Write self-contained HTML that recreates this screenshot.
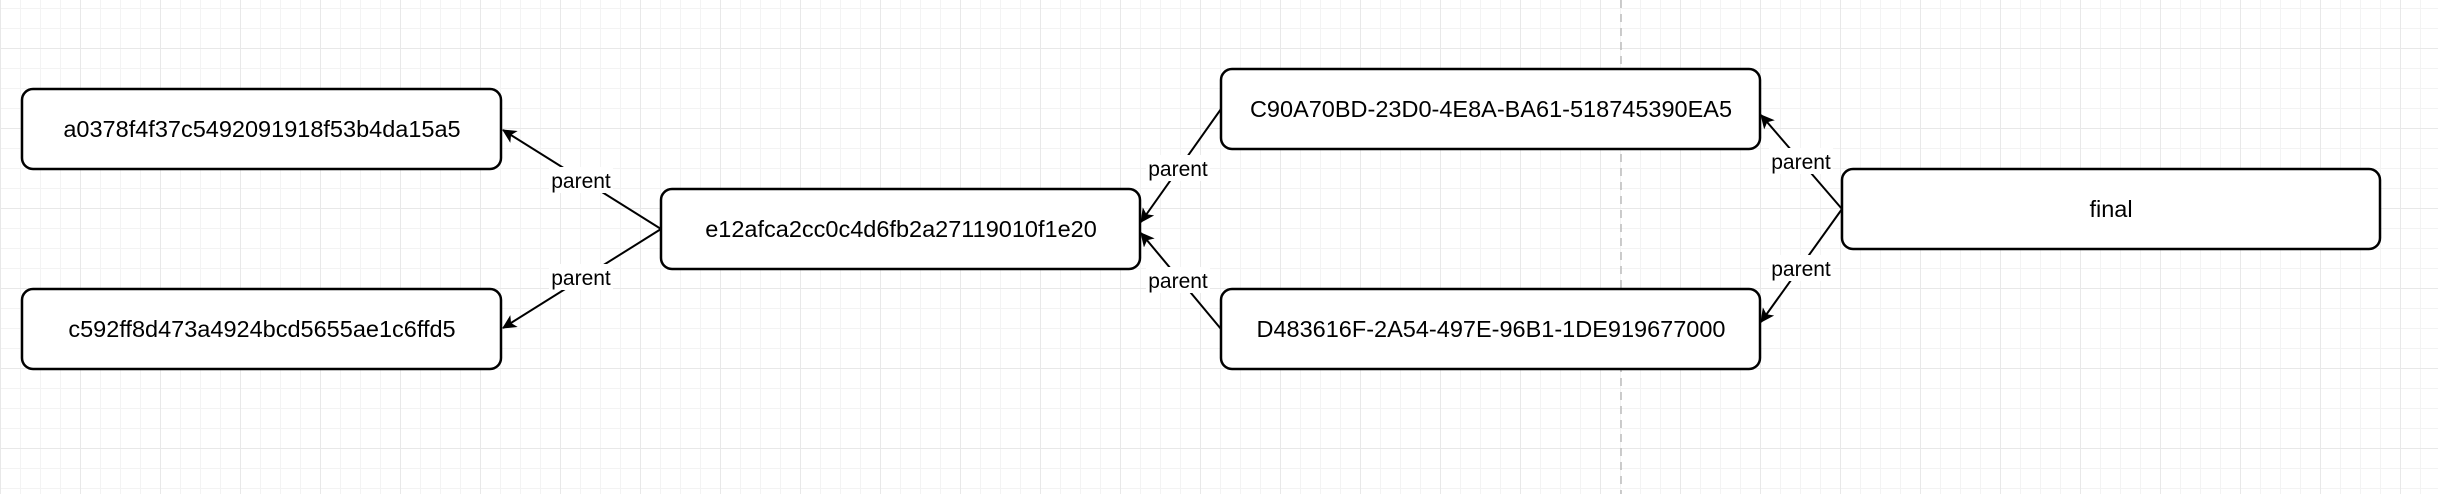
<!DOCTYPE html>
<html><head><meta charset="utf-8"><style>
html,body{margin:0;padding:0;background:#fff;}
svg{display:block;}
text{font-family:"Liberation Sans",Arial,sans-serif;fill:#000;}
</style></head><body>
<svg width="2438" height="494" viewBox="0 0 2438 494" xmlns="http://www.w3.org/2000/svg">
<defs>
<pattern id="minor" x="0" y="8" width="20" height="20" patternUnits="userSpaceOnUse">
<path d="M0 0H20M0 0V20" stroke="#f3f3f3" stroke-width="2" fill="none"/>
</pattern>
<pattern id="major" x="0" y="48" width="80" height="80" patternUnits="userSpaceOnUse">
<path d="M0 0H80M0 0V80" stroke="#e8e8e8" stroke-width="2" fill="none"/>
</pattern>
<marker id="ar" markerWidth="14" markerHeight="14" refX="13" refY="7" orient="auto" markerUnits="userSpaceOnUse">
<path d="M0 0L14 7L0 14L3.5 7Z" fill="#000"/>
</marker>
</defs>
<rect width="2438" height="494" fill="#fff"/>
<rect width="2438" height="494" fill="url(#minor)"/>
<rect width="2438" height="494" fill="url(#major)"/>
<line x1="1621" y1="0" x2="1621" y2="494" stroke="#bbb" stroke-width="1.5" stroke-dasharray="8,6"/>

<g stroke="#000" stroke-width="2" fill="none">
<line x1="661" y1="229" x2="503" y2="130" marker-end="url(#ar)"/>
<line x1="661" y1="229" x2="503" y2="328" marker-end="url(#ar)"/>
<line x1="1221" y1="109" x2="1141" y2="222" marker-end="url(#ar)"/>
<line x1="1221" y1="329" x2="1141" y2="233" marker-end="url(#ar)"/>
<line x1="1842" y1="209" x2="1761" y2="115" marker-end="url(#ar)"/>
<line x1="1842" y1="209" x2="1761" y2="322" marker-end="url(#ar)"/>
</g>

<g fill="#fff">
<rect x="549" y="167" width="64" height="26"/>
<rect x="549" y="264" width="64" height="26"/>
<rect x="1146" y="155" width="64" height="26"/>
<rect x="1146" y="267" width="64" height="26"/>
<rect x="1769" y="148" width="64" height="26"/>
<rect x="1769" y="255" width="64" height="26"/>
</g>
<g font-size="21" text-anchor="middle">
<text x="581" y="188">parent</text>
<text x="581" y="285">parent</text>
<text x="1178" y="176">parent</text>
<text x="1178" y="288">parent</text>
<text x="1801" y="169">parent</text>
<text x="1801" y="276">parent</text>
</g>

<g stroke="#000" stroke-width="2.5" fill="#fff">
<rect x="22" y="89" width="479" height="80" rx="11"/>
<rect x="22" y="289" width="479" height="80" rx="11"/>
<rect x="661" y="189" width="479" height="80" rx="11"/>
<rect x="1221" y="69" width="539" height="80" rx="11"/>
<rect x="1221" y="289" width="539" height="80" rx="11"/>
<rect x="1842" y="169" width="538" height="80" rx="11"/>
</g>
<g font-size="23.5" text-anchor="middle">
<text x="262" y="137">a0378f4f37c5492091918f53b4da15a5</text>
<text x="262" y="337">c592ff8d473a4924bcd5655ae1c6ffd5</text>
<text x="901" y="237">e12afca2cc0c4d6fb2a27119010f1e20</text>
<text x="1491" y="117">C90A70BD-23D0-4E8A-BA61-518745390EA5</text>
<text x="1491" y="337">D483616F-2A54-497E-96B1-1DE919677000</text>
<text x="2111" y="217">final</text>
</g>
</svg>
</body></html>
